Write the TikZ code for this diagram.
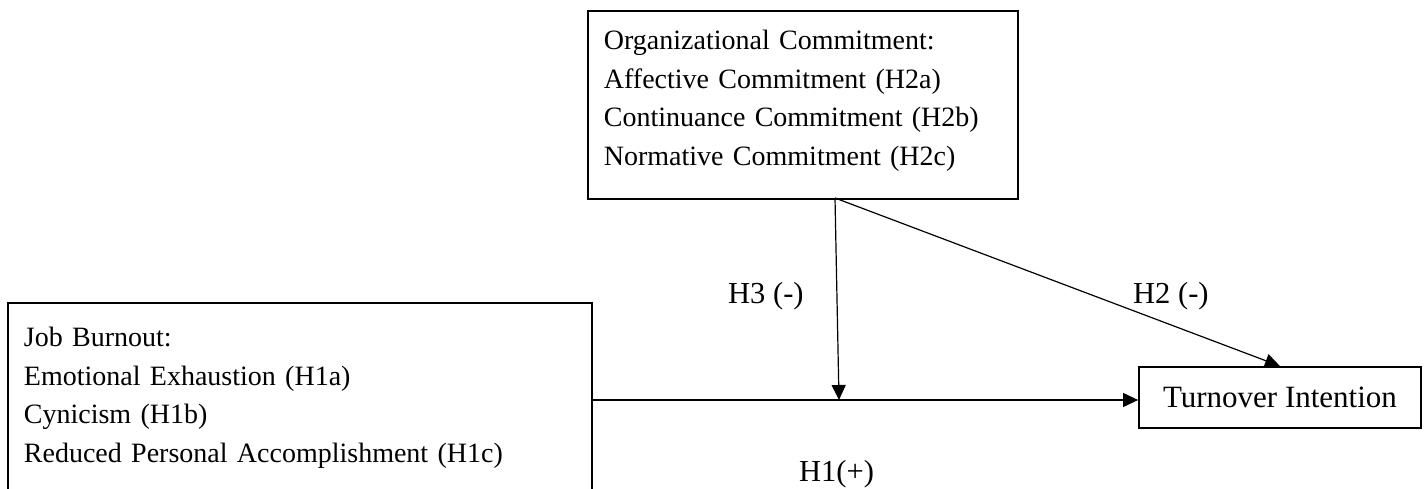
\documentclass[tikz,border=0pt]{standalone}
\usepackage{fontspec}
\setmainfont{Liberation Serif}
\usetikzlibrary{arrows.meta,calc}
\begin{document}
\begin{tikzpicture}[x=1pt,y=-1pt,
  boxtext/.style={font=\fontsize{28}{38.5}\selectfont},
  lbl/.style={font=\fontsize{30.5}{36}\selectfont, inner sep=0pt, anchor=base west},
  varbox/.style={draw, line width=1.8pt, rectangle, align=left, inner ysep=0pt},
  conn/.style={line width=1.2pt, -{Triangle[length=15pt,width=14pt]}}
]
\useasboundingbox (0,0) rectangle (1424,489);
\clip (0,0) rectangle (1424,489);
\node[varbox, boxtext, anchor=north west, minimum width=430pt, minimum height=188pt,
      text width=398pt, inner xsep=16pt] (org) at (587,10)
  {Organizational Commitment:\\Affective Commitment (H2a)\\Continuance Commitment (H2b)\\Normative Commitment (H2c)\rule[-14pt]{0pt}{14pt}};
\node[varbox, boxtext, anchor=north west, minimum width=584pt, minimum height=190pt,
      text width=552pt, inner xsep=16pt] (jb) at (7,302)
  {Job Burnout:\\Emotional Exhaustion (H1a)\\Cynicism (H1b)\\Reduced Personal Accomplishment (H1c)};
\node[draw, line width=1.8pt, rectangle, minimum width=282pt, minimum height=61pt,
      font=\fontsize{31}{36}\selectfont, inner sep=0pt] (ti) at (1280,397.5) {Turnover Intention};
\coordinate (ob) at (835,198);
\coordinate (j) at (839,400);
\draw[conn] (jb.east |- j) -- (ti.west |- j);
\draw[conn] (ob) -- (j);
\draw[conn] (ob) -- (ti.north);
\node[lbl] (h3) at (728,303) {H3 (-)};
\node[lbl] (h2) at (1133,303) {H2 (-)};
\node[lbl] (h1) at (799,481) {H1(+)};
\end{tikzpicture}
\end{document}
